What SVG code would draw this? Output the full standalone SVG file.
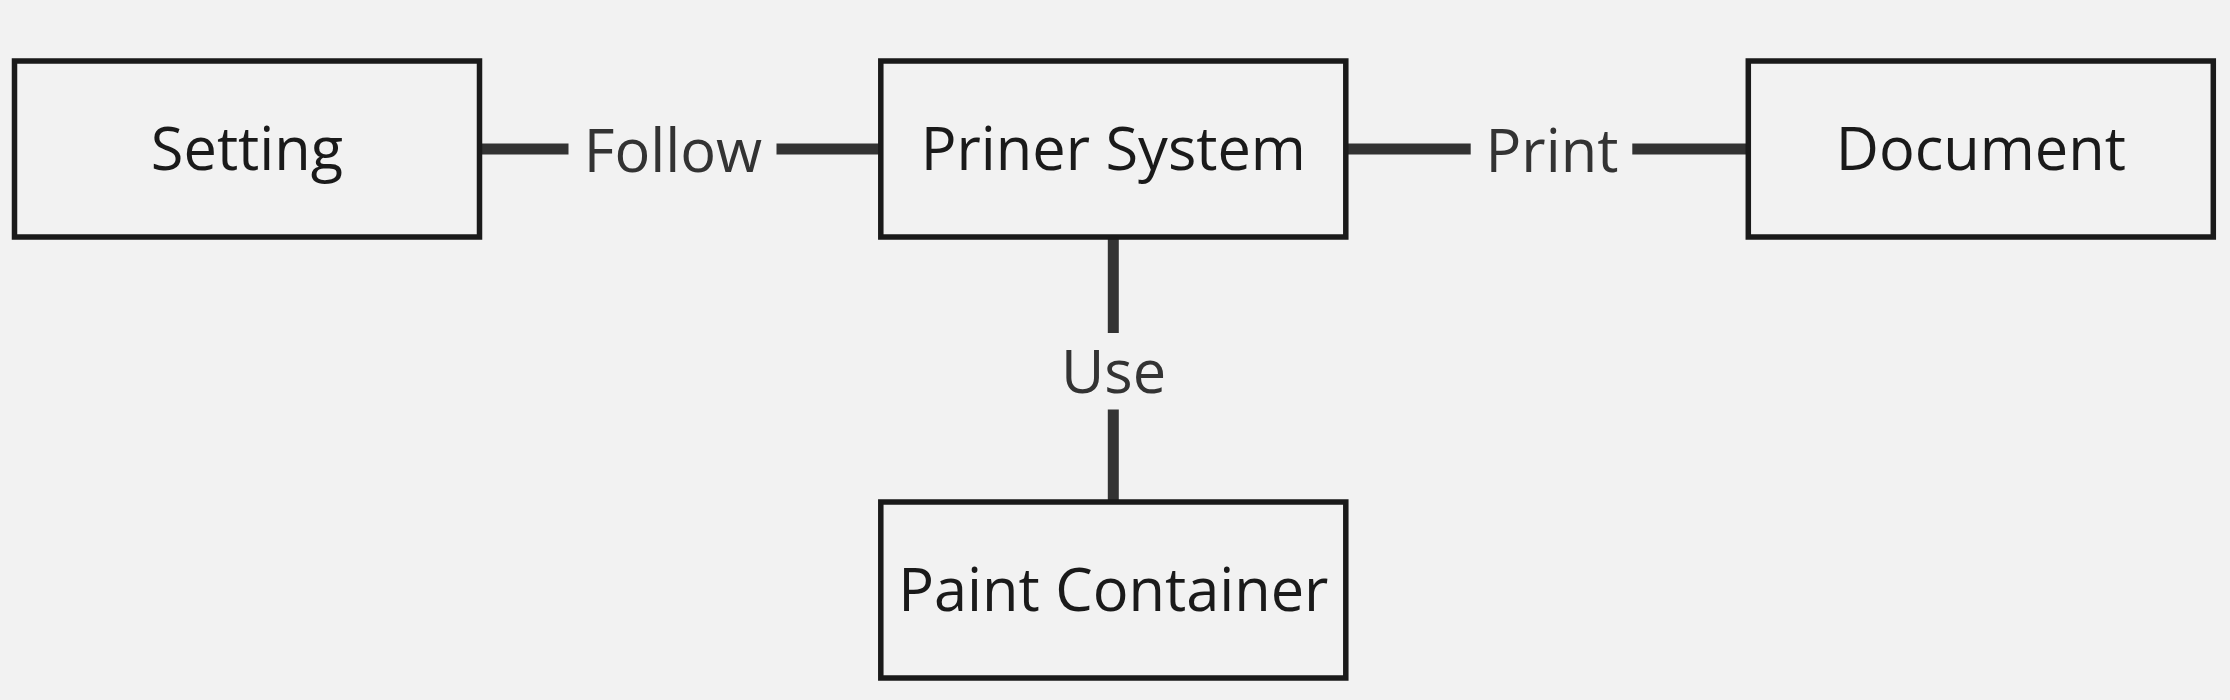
<svg xmlns="http://www.w3.org/2000/svg" width="2230" height="700" viewBox="0 0 2230 700">
<style>
.node rect{fill:#f2f2f2;stroke:#1a1a1a;stroke-width:5.5}
.node text{font-family:"Open Sans","Noto Sans",sans-serif;font-size:59.5px;fill:#1a1a1a;text-anchor:middle}
.edge line{stroke:#333333;stroke-width:11}
.lbl{font-family:"Open Sans","Noto Sans",sans-serif;font-size:59.5px;fill:#333333;text-anchor:middle}
</style>
<rect x="0" y="0" width="2230" height="700" fill="#f2f2f2"/>
<g id="connectors" class="edge">
<line x1="479.5" y1="149" x2="568.5" y2="149"/>
<line x1="776.5" y1="149" x2="880.8" y2="149"/>
<text class="lbl" x="673" y="171.5">Follow</text>
<line x1="1345.8" y1="149" x2="1470.7" y2="149"/>
<line x1="1632.3" y1="149" x2="1748.3" y2="149"/>
<text class="lbl" x="1552" y="171.5">Print</text>
<line x1="1113.3" y1="237" x2="1113.3" y2="333"/>
<line x1="1113.3" y1="409.5" x2="1113.3" y2="502"/>
<text class="lbl" x="1113.5" y="393">Use</text>
</g>
<g id="setting" class="node">
<rect x="14.5" y="61" width="465" height="176"/>
<text x="247" y="170">Setting</text>
</g>
<g id="priner-system" class="node">
<rect x="880.8" y="61" width="465" height="176"/>
<text x="1113.3" y="170">Priner System</text>
</g>
<g id="document" class="node">
<rect x="1748.3" y="61" width="465" height="176"/>
<text x="1980.8" y="170">Document</text>
</g>
<g id="paint-container" class="node">
<rect x="880.8" y="502" width="465" height="176"/>
<text x="1113.3" y="611">Paint Container</text>
</g>
</svg>
